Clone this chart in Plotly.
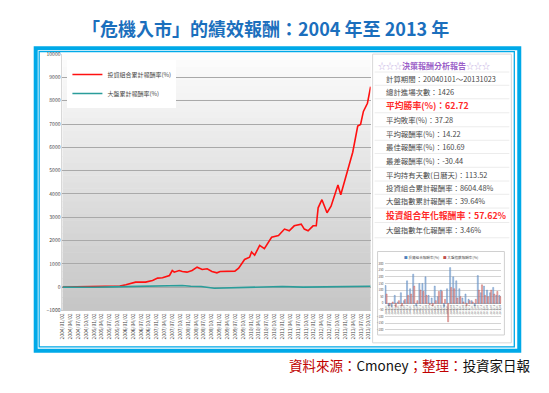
import plotly.graph_objects as go

W, H = 549, 393
FONT = "Noto Sans CJK TC"

# ---------------- data ----------------
title_text = "「危機入市」的績效報酬：2004 年至 2013 年"
series_names = ["投資組合累計報酬率(%)", "大盤累計報酬率(%)"]

port_dates = ["2004-01-02", "2004-07-01", "2004-12-24", "2005-04-15", "2005-08-10", "2005-10-30",
              "2006-01-08", "2006-05-01", "2006-08-25", "2006-11-14", "2007-01-12", "2007-03-10",
              "2007-05-30", "2007-07-01", "2007-07-24", "2007-09-20", "2007-10-26", "2007-12-20",
              "2008-02-17", "2008-04-15", "2008-06-13", "2008-08-10", "2008-10-04", "2008-12-01",
              "2009-01-08", "2009-03-04", "2009-06-28", "2009-08-11", "2009-09-16", "2009-10-19",
              "2009-12-16", "2010-01-08", "2010-02-13", "2010-04-12", "2010-06-06", "2010-08-29",
              "2010-11-17", "2011-01-26", "2011-03-22", "2011-05-19", "2011-08-08", "2011-09-13",
              "2011-10-27", "2011-12-24", "2012-01-30", "2012-02-21", "2012-04-05", "2012-06-03",
              "2012-07-20", "2012-08-22", "2012-10-08", "2012-11-10", "2013-01-08", "2013-03-29",
              "2013-05-26", "2013-06-28", "2013-07-31", "2013-09-16", "2013-10-23"]
port_values = [0, 10, 0, 20, 30, 43,
               100, 214, 214, 286, 386, 400,
               500, 714, 643, 714, 671, 643,
               714, 857, 757, 786, 671, 614,
               671, 686, 686, 814, 1018, 1186,
               1286, 1509, 1369, 1790, 1649, 2140,
               2210, 2491, 2421, 2631, 2701, 2491,
               2421, 2631, 2631, 3403, 3753, 3192,
               3473, 3893, 4384, 3964, 4735, 5787,
               6909, 6979, 7540, 7890, 8604.48]

mkt_dates = ["2004-01-02", "2004-07-01", "2005-01-01", "2005-08-01", "2006-05-01", "2007-01-01",
             "2007-07-01", "2007-10-26", "2008-02-01", "2008-06-01", "2008-11-01", "2009-03-01",
             "2009-09-01", "2010-06-01", "2011-01-01", "2011-09-01", "2012-06-01", "2013-01-01",
             "2013-10-23"]
mkt_values = [0, -10, -5, 10, 20, 30, 60, 70, 40, 30, -50, -40, 0, 10, 30, 0, 10, 25, 39.64]

report_title = ["☆☆☆", "決策報酬分析報告", "☆☆☆"]
report_rows = ["計算期間：20040101～20131023",
               "總計進場次數：1426",
               "平均勝率(%)：62.72",
               "平均敗率(%)：37.28",
               "平均報酬率(%)：14.22",
               "最佳報酬率(%)：160.69",
               "最差報酬率(%)：-30.44",
               "平均持有天數(日曆天)：113.52",
               "投資組合累計報酬率：8604.48%",
               "大盤指數累計報酬率：39.64%",
               "投資組合年化報酬率：57.62%",
               "大盤指數年化報酬率：3.46%"]
report_highlight = [False, False, True, False, False, False, False, False, False, False, True, False]

mini_names = ["投資組合報酬率(%)", "大盤指數報酬率(%)"]
mini_cats = ["2004/01", "2004/04", "2004/07", "2004/10", "2005/01", "2005/04", "2005/07", "2005/10",
             "2006/01", "2006/04", "2006/07", "2006/10", "2007/01", "2007/04", "2007/07", "2007/10",
             "2008/01", "2008/04", "2008/07", "2008/10", "2009/01", "2009/04", "2009/07", "2009/10",
             "2010/01", "2010/04", "2010/07", "2010/10", "2011/01", "2011/04", "2011/07", "2011/10",
             "2012/01", "2012/04", "2012/07", "2012/10", "2013/01", "2013/04"]
mini_blue = [135, -20, -25, 60, 10, 80, 20, 170, 110, 220, -20, 150, 150, 200, 60, 40, 130, 50, 100,
             -30, 110, 270, 200, 170, 110, 40, 70, 30, 20, -20, 210, 80, 130, 100, 80, 120, 60, 60]
mini_red = [70, -15, 10, -30, 20, -20, 30, 60, 70, 130, 20, 100, 90, 60, -10, -20, 20, 90, 90,
            30, -140, 120, 110, 40, 50, 10, -20, 20, 10, 30, 100, 140, 60, 50, 100, 70, 90, 50]

source_parts = [("資料來源：", "#c00000"), ("Cmoney", "#111111"), ("；整理：", "#c00000"),
                ("投資家日報", "#111111")]

# ---------------- helpers ----------------
def px_x(p):
    return p / W

def px_y(p):
    return 1 - p / H

BLUE_FILL, BLUE_LINE = "rgba(149,179,215,0.75)", "#4f81bd"
RED_FILL, RED_LINE = "rgba(230,160,160,0.75)", "#c0504d"

fig = go.Figure()

fig.add_trace(go.Scatter(x=port_dates, y=port_values, mode="lines", name=series_names[0],
                         line=dict(color="#ff1010", width=1.6), xaxis="x", yaxis="y"))
fig.add_trace(go.Scatter(x=mkt_dates, y=mkt_values, mode="lines", name=series_names[1],
                         line=dict(color="#2a9d9a", width=1.6), xaxis="x", yaxis="y"))

fig.add_trace(go.Bar(x=mini_cats, y=mini_blue, name=mini_names[0], xaxis="x2", yaxis="y2",
                     marker=dict(color=BLUE_FILL, line=dict(color=BLUE_LINE, width=0.4)),
                     showlegend=False))
fig.add_trace(go.Bar(x=mini_cats, y=mini_red, name=mini_names[1], xaxis="x2", yaxis="y2",
                     marker=dict(color=RED_FILL, line=dict(color=RED_LINE, width=0.4)),
                     showlegend=False))

shapes = []
# outer blue frame
shapes.append(dict(type="rect", xref="paper", yref="paper", x0=px_x(32), x1=px_x(520),
                   y0=px_y(353), y1=px_y(45), line=dict(color="#00a9e8", width=4),
                   fillcolor="white", layer="below"))
shapes.append(dict(type="rect", xref="paper", yref="paper", x0=px_x(35.5), x1=px_x(515),
                   y0=px_y(349), y1=px_y(48.5), line=dict(color="#00a9e8", width=1.3),
                   layer="below"))
# gradient plot background
nb = 40
for i in range(nb):
    t = i / (nb - 1)
    c = int(round(198 + (252 - 198) * t))
    shapes.append(dict(type="rect", xref="x domain", yref="y domain", x0=0, x1=1,
                       y0=i / nb, y1=(i + 1) / nb + 0.002, line=dict(width=0),
                       fillcolor=f"rgb({c},{c},{c})", layer="below"))
# right panel
shapes.append(dict(type="rect", xref="paper", yref="paper", x0=px_x(372), x1=px_x(512),
                   y0=px_y(345), y1=px_y(51), line=dict(color="#d8d8d8", width=1),
                   fillcolor="white", layer="below"))
row_y = [62.5, 76, 89.5, 103.5, 118, 132, 145.5, 159, 173.5, 187, 200.5, 215, 230]
for k in range(len(row_y) - 1):
    ym = (row_y[k] + row_y[k + 1]) / 2
    shapes.append(dict(type="line", xref="paper", yref="paper", x0=px_x(374), x1=px_x(510),
                       y0=px_y(ym), y1=px_y(ym), line=dict(color="#ececec", width=1), layer="below"))
shapes.append(dict(type="line", xref="paper", yref="paper", x0=px_x(374), x1=px_x(510),
                   y0=px_y(238), y1=px_y(238), line=dict(color="#ececec", width=1), layer="below"))
# mini chart box
shapes.append(dict(type="rect", xref="paper", yref="paper", x0=px_x(377), x1=px_x(505),
                   y0=px_y(337), y1=px_y(252), line=dict(color="#d0d0d0", width=1),
                   fillcolor="white", layer="below"))

annotations = []
annotations.append(dict(text=f"<b>{title_text}</b>", xref="paper", yref="paper",
                        x=px_x(264), y=px_y(24), showarrow=False, xanchor="center", yanchor="middle",
                        font=dict(family=FONT, size=18, color="#1b6fbd")))
annotations.append(dict(
    text=(f"<span style='color:#c3aee3'>{report_title[0]}</span>"
          f"<b><span style='color:#9b5fc8'>{report_title[1]}</span></b>"
          f"<span style='color:#c3aee3'>{report_title[2]}</span>"),
    xref="paper", yref="paper", x=px_x(375), y=px_y(row_y[0]), showarrow=False,
    xanchor="left", yanchor="middle", font=dict(family=FONT, size=8)))
for txt, hl, yy in zip(report_rows, report_highlight, row_y[1:]):
    if hl:
        annotations.append(dict(text=f"<b>{txt}</b>", xref="paper", yref="paper", x=px_x(383),
                                y=px_y(yy), showarrow=False, xanchor="left", yanchor="middle",
                                font=dict(family=FONT, size=8.8, color="#ff2a2a")))
    else:
        annotations.append(dict(text=txt, xref="paper", yref="paper", x=px_x(383),
                                y=px_y(yy), showarrow=False, xanchor="left", yanchor="middle",
                                font=dict(family=FONT, size=7.4, color="#4a4a4a")))
# mini chart legend
annotations.append(dict(
    text=(f"<span style='color:{BLUE_LINE}'>■</span> {mini_names[0]}　"
          f"<span style='color:{RED_LINE}'>■</span> {mini_names[1]}"),
    xref="paper", yref="paper", x=px_x(441), y=px_y(258), showarrow=False,
    xanchor="center", yanchor="middle", font=dict(family=FONT, size=3.6, color="#555555")))
annotations.append(dict(
    text="".join(f"<span style='color:{c}'>{t}</span>" for t, c in source_parts),
    xref="paper", yref="paper", x=px_x(534), y=px_y(368), showarrow=False,
    xanchor="right", yanchor="middle", font=dict(family=FONT, size=13.5)))

mini_top, mini_bot = 263, 335
mini_range = [-225, 310]
zero_px = mini_top + (mini_range[1] - 0) / (mini_range[1] - mini_range[0]) * (mini_bot - mini_top)

fig.update_layout(
    width=W, height=H, autosize=False,
    margin=dict(l=0, r=0, t=0, b=0),
    paper_bgcolor="white", plot_bgcolor="rgba(0,0,0,0)",
    font=dict(family=FONT, color="#444444"),
    shapes=shapes, annotations=annotations,
    barmode="group", bargap=0.3, bargroupgap=0.0,
    xaxis=dict(domain=[px_x(59), px_x(370)], anchor="y", type="date",
               range=["2004-01-02", "2013-10-23"], tick0="2004-01-02", dtick="M3",
               tickformat="%Y/%m/%d", tickangle=-90, tickfont=dict(size=5, color="#444444"),
               showgrid=False, showline=True, linecolor="#c8c8c8", linewidth=1, ticks=""),
    yaxis=dict(domain=[px_y(312), px_y(51)], anchor="x", range=[-1000, 10000], dtick=1000,
               tickformat="d",
               tickfont=dict(size=5, color="#444444"), showgrid=True, gridcolor="#a9a9a9",
               gridwidth=1.4, zeroline=False, showline=True, linecolor="#d8d8d8", ticks=""),
    xaxis2=dict(domain=[px_x(384), px_x(502)], anchor="free", position=px_y(zero_px),
                type="category", tickangle=-90, tickfont=dict(size=2.6, color="#555555"),
                showgrid=False, showline=False, ticks=""),
    yaxis2=dict(domain=[px_y(mini_bot), px_y(mini_top)], anchor="x2", range=mini_range, dtick=50,
                tickformat="d",
                tickfont=dict(size=3, color="#555555"), showgrid=True, gridcolor="#d4d4d4",
                gridwidth=0.6, zeroline=True, zerolinecolor="#bbbbbb", zerolinewidth=0.6, ticks=""),
    legend=dict(x=px_x(64), y=px_y(57), xanchor="left", yanchor="top", bgcolor="white",
                font=dict(family=FONT, size=6, color="#444444"), tracegroupgap=0,
                itemwidth=30, borderwidth=0, orientation="v"),
    showlegend=True,
)

fig.write_html("out.html", config={"displayModeBar": False},
               post_script="document.body.style.margin='0';document.body.style.padding='0';")
